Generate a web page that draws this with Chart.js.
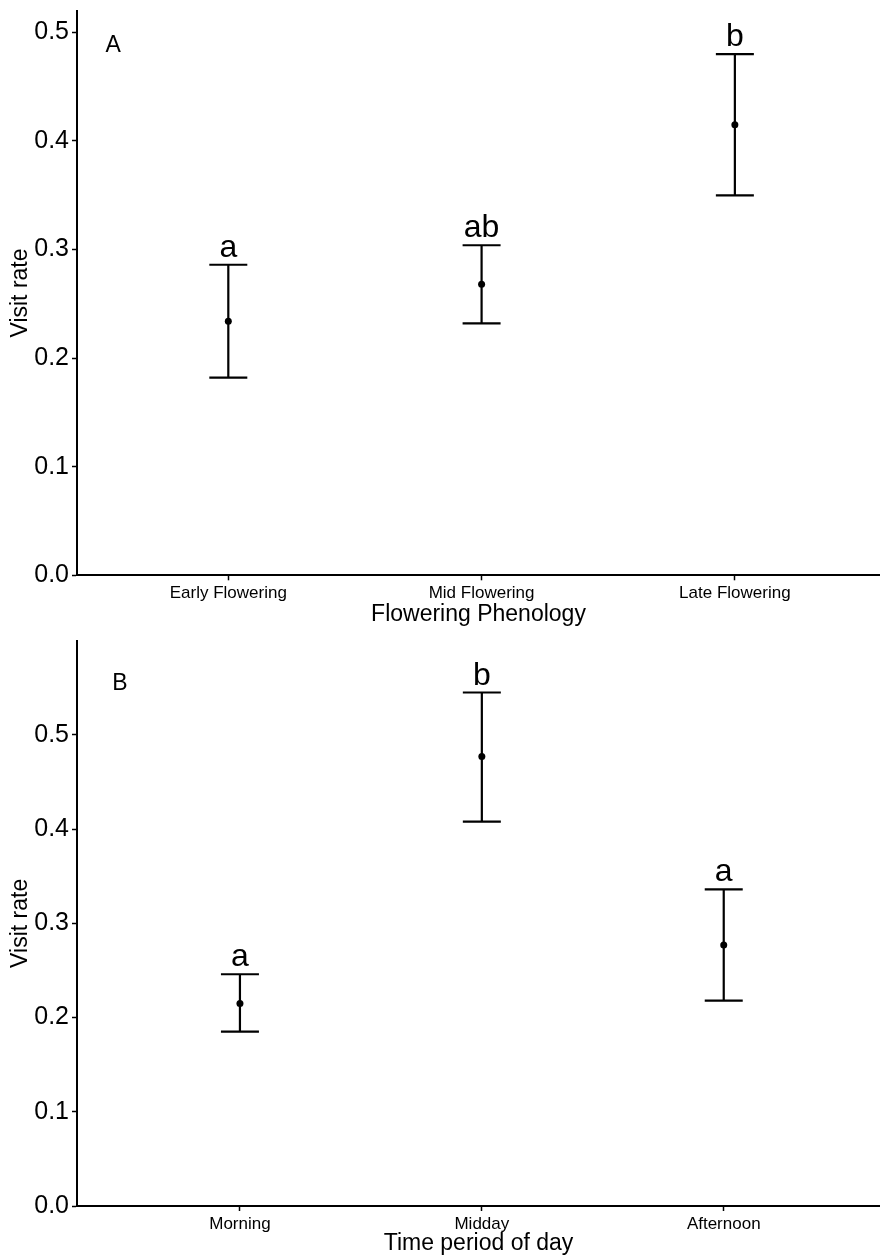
<!DOCTYPE html>
<html>
<head>
<meta charset="utf-8">
<script src="https://cdn.jsdelivr.net/npm/chart.js@4/dist/chart.umd.min.js"></script>
<style>
  html, body { margin: 0; padding: 0; background: #fff; }
  canvas { display: block; }
</style>
</head>
<body>
<canvas id="phenology" width="880" height="628"></canvas>
<canvas id="period" width="880" height="629"></canvas>
<script>
// visit rate by flowering phenology
const phenologyCats = ["Early Flowering", "Mid Flowering", "Late Flowering"];
const phenologyMean = [0.234, 0.268, 0.415];
const phenologyLower = [0.182, 0.232, 0.350];
const phenologyUpper = [0.286, 0.304, 0.480];
const phenologyLetters = ["a", "ab", "b"];
const phenologyTicks = [0, 0.1, 0.2, 0.3, 0.4, 0.5];

// visit rate by time of day
const periodCats = ["Morning", "Midday", "Afternoon"];
const periodMean = [0.215, 0.477, 0.277];
const periodLower = [0.185, 0.408, 0.218];
const periodUpper = [0.246, 0.545, 0.336];
const periodLetters = ["a", "b", "a"];
const periodTicks = [0, 0.1, 0.2, 0.3, 0.4, 0.5];

const FONT = "'Liberation Sans', Arial, Helvetica, sans-serif";

// draws the CI whiskers under the points, and the group letters + panel tag on top
const errorBars = {
  id: "errorBars",
  beforeDatasetsDraw(chart) {
    const ds = chart.data.datasets[0];
    const x = chart.scales.x, y = chart.scales.y;
    const ctx = chart.ctx;
    ctx.save();
    ctx.strokeStyle = "#000";
    ctx.lineWidth = 2.2;
    ds.data.forEach((p, i) => {
      const px = x.getPixelForValue(p.x);
      const top = y.getPixelForValue(ds.upper[i]);
      const bot = y.getPixelForValue(ds.lower[i]);
      ctx.beginPath();
      ctx.moveTo(px, top); ctx.lineTo(px, bot);
      ctx.moveTo(px - 19, top); ctx.lineTo(px + 19, top);
      ctx.moveTo(px - 19, bot); ctx.lineTo(px + 19, bot);
      ctx.stroke();
    });
    ctx.restore();
  },
  afterDatasetsDraw(chart) {
    const ds = chart.data.datasets[0];
    const x = chart.scales.x, y = chart.scales.y;
    const ctx = chart.ctx;
    ctx.save();
    ctx.fillStyle = "#000";
    ctx.textAlign = "center";
    ctx.font = "32px " + FONT;
    ctx.textBaseline = "alphabetic";
    ds.data.forEach((p, i) => {
      const px = x.getPixelForValue(p.x);
      const top = y.getPixelForValue(ds.upper[i]);
      ctx.fillText(ds.letters[i], px, top - 8);
    });
    ctx.font = "23px " + FONT;
    ctx.textBaseline = "middle";
    ctx.fillText(ds.tag.text, x.getPixelForValue(ds.tag.x), y.getPixelForValue(ds.tag.y));
    ctx.restore();
  }
};

function panel(id, cats, mean, lower, upper, letters, yTicks, opts) {
  const points = cats.map((c, i) => ({ x: i + 1, y: mean[i] }));
  return new Chart(document.getElementById(id), {
    type: "scatter",
    data: {
      datasets: [{
        data: points,
        upper: upper,
        lower: lower,
        letters: letters,
        tag: opts.tag,
        pointRadius: 3.5,
        pointHoverRadius: 3.5,
        backgroundColor: "#000",
        borderColor: "#000",
        borderWidth: 0
      }]
    },
    options: {
      responsive: false,
      animation: false,
      layout: { autoPadding: false, padding: { top: opts.top, left: 0, right: 0, bottom: 0 } },
      plugins: { legend: { display: false }, tooltip: { enabled: false } },
      scales: {
        x: {
          type: "linear",
          min: opts.xMin,
          max: opts.xMax,
          afterBuildTicks: s => { s.ticks = cats.map((c, i) => ({ value: i + 1 })); },
          afterFit: s => { s.height = opts.xHeight; s.paddingLeft = 0; s.paddingRight = 0; },
          border: { display: true, color: "#000", width: 2 },
          grid: { drawOnChartArea: false, drawTicks: true, tickLength: 5, tickWidth: 1.5, color: "#000" },
          ticks: {
            padding: 3,
            color: "#000",
            font: { family: FONT, size: 17 },
            maxRotation: 0,
            autoSkip: false,
            callback: v => cats[v - 1]
          },
          title: {
            display: true,
            text: opts.xTitle,
            color: "#000",
            font: { family: FONT, size: 23 },
            padding: { top: 0, bottom: 0 }
          }
        },
        y: {
          min: 0,
          max: opts.yMax,
          afterBuildTicks: s => { s.ticks = yTicks.map(v => ({ value: v })); },
          afterFit: s => { s.width = 77; s.paddingTop = 0; s.paddingBottom = 0; },
          border: { display: true, color: "#000", width: 2 },
          grid: { drawOnChartArea: false, drawTicks: true, tickLength: 5, tickWidth: 1.5, color: "#000" },
          ticks: {
            padding: 3,
            color: "#000",
            font: { family: FONT, size: 25 },
            callback: v => v.toFixed(1)
          },
          title: {
            display: true,
            text: "Visit rate",
            color: "#000",
            font: { family: FONT, size: 23 },
            padding: { top: 7, bottom: 0 }
          }
        }
      }
    },
    plugins: [errorBars]
  });
}

panel("phenology", phenologyCats, phenologyMean, phenologyLower, phenologyUpper, phenologyLetters, phenologyTicks, {
  top: 10.7, xHeight: 52.7, yMax: 0.52, xMin: 0.4026, xMax: 3.573,
  xTitle: "Flowering Phenology",
  tag: { text: "A", x: 0.545, y: 0.488 }
});

panel("period", periodCats, periodMean, periodLower, periodUpper, periodLetters, periodTicks, {
  top: 12.7, xHeight: 51, yMax: 0.6, xMin: 0.3264, xMax: 3.646,
  xTitle: "Time period of day",
  tag: { text: "B", x: 0.504, y: 0.554 }
});
</script>
</body>
</html>
